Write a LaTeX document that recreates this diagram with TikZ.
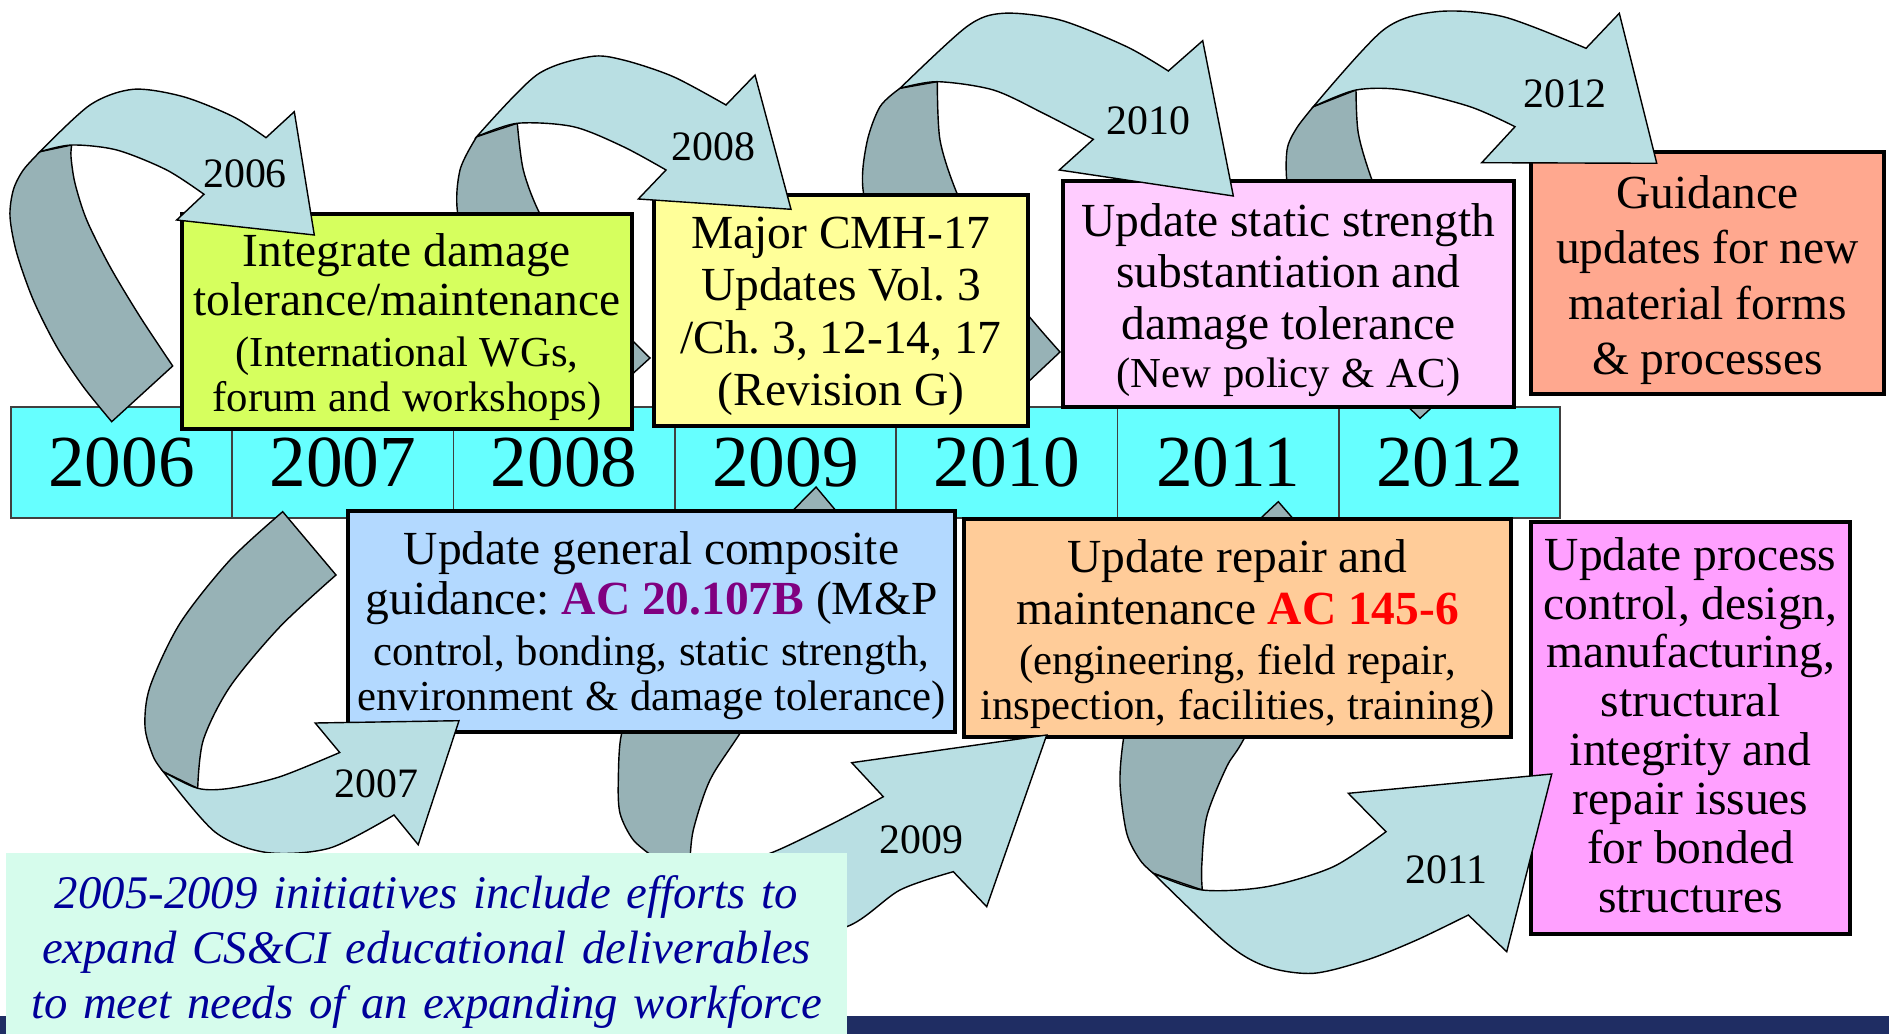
\documentclass[tikz,border=0pt]{standalone}
\usepackage{fontspec}
\setmainfont{Liberation Serif}
\frenchspacing

\definecolor{zeitcyan}{RGB}{102,255,255}
\definecolor{kgruen}{RGB}{214,255,94}
\definecolor{kgelb}{RGB}{255,255,153}
\definecolor{krosa}{RGB}{255,204,255}
\definecolor{klachs}{RGB}{255,168,143}
\definecolor{kblau}{RGB}{179,217,255}
\definecolor{korange}{RGB}{255,204,153}
\definecolor{kmagenta}{RGB}{255,160,255}
\definecolor{pfeilhell}{RGB}{185,223,227}
\definecolor{pfeildunkel}{RGB}{151,178,182}
\definecolor{notizgruen}{RGB}{214,252,236}
\definecolor{notizblau}{RGB}{0,0,153}
\definecolor{balkenblau}{RGB}{31,45,99}
\definecolor{acviolett}{RGB}{128,0,128}

\newcommand{\grosstext}[1]{\fontsize{13.5pt}{#1}\selectfont}
\newcommand{\kleintext}[1]{\fontsize{12.15pt}{#1}\selectfont}

\tikzset{
	kasten/.style={draw=black, line width=1pt, inner sep=0pt},
	kastentext/.style={inner sep=0pt, align=center},
	jahr/.style={draw=black!75, line width=0.5pt, fill=zeitcyan, inner sep=0pt,
		minimum width=2.213cm, minimum height=1.11cm, font=\fontsize{20.85pt}{25pt}\selectfont},
	hell/.style={fill=pfeilhell, draw=black, line width=0.4pt},
	dunkel/.style={fill=pfeildunkel, draw=black, line width=0.4pt},
	pfeiljahr/.style={inner sep=0pt, font=\fontsize{11.9pt}{14pt}\selectfont},
}

\begin{document}
\begin{tikzpicture}[x=0.01cm, y=-0.01cm]
	\useasboundingbox (0,0) rectangle (1889,1034);

	%% Balken unten
	\fill[balkenblau] (0,1016) rectangle (1889,1034);

	%% Zeitleiste
	\foreach \jr [count=\i from 0] in {2006,...,2012}
		\node[jahr] (j\jr) at ({121.6+221.3*\i},462.5) {\jr};

	%%%%%%%%%%%%%%%%

	%% obere Reihe, von rechts nach links
	\node[kasten, fill=klachs, minimum width=3.53cm, minimum height=2.42cm] (guidance) at (1707.5,273) {};
	\node[kastentext, text width=3.53cm] (guidance-t) at ([yshift=-0.069cm]guidance.center)
		{\grosstext{15.75pt}Guidance\\updates for new\\material forms\\\& processes\par};

	\filldraw[dunkel] plot[smooth] coordinates {(1420,418.3) (1385,382) (1340,320) (1305,250) (1288,190) (1287,150) (1296.7,128) (1313.3,106.7)}
		-- (1356,90)
		-- plot[smooth] coordinates {(1356,90) (1358.3,133.3) (1371.7,179.3) (1395,235) (1435,300) (1481,362)}
		-- cycle;
	\filldraw[hell] plot[smooth] coordinates {(1313.3,106.7) (1383.3,30) (1436.7,11.7) (1503.3,16.7) (1586,48.3)}
		-- (1619.3,13.3) -- (1656.7,163.3) -- (1481.7,162.7) -- (1515,126.7)
		-- plot[smooth] coordinates {(1515,126.7) (1470,106.7) (1403.3,90) (1356,90) (1313.3,106.7)}
		-- cycle;
	\node[pfeiljahr] (p2012) at (1565,93.3) {2012};

	\node[kasten, fill=krosa, minimum width=4.51cm, minimum height=2.26cm] (statics) at (1288.5,294) {};
	\node[kastentext, text width=4.51cm] (statics-t) at ([yshift=-0.06cm]statics.center)
		{{\grosstext{14.7pt}Update static strength\\substantiation and\\damage tolerance\par}%
		{\kleintext{13.7pt}(New policy \& AC)\par}};

	\filldraw[dunkel] plot[smooth] coordinates {(994,414) (935,345) (885,265) (863.3,191.7) (866.7,143.3) (880,106.7) (900,88.3)}
		-- (937.3,81.7)
		-- plot[smooth] coordinates {(937.3,81.7) (940,140) (956.7,192.7) (985,250) (1020,305) (1060,352)}
		-- cycle;
	\filldraw[hell] plot[smooth] coordinates {(900,88.3) (966.7,26.7) (1003.3,13.3) (1060,20) (1126.7,46.7) (1168.3,71)}
		-- (1202.7,40.7) -- (1233.3,196) -- (1059.3,170) -- (1093.3,139.3)
		-- plot[smooth] coordinates {(1093.3,139.3) (1043.3,113.3) (993.3,90) (937.3,81.7) (900,88.3)}
		-- cycle;
	\node[pfeiljahr] (p2010) at (1148.3,120.7) {2010};

	\node[kasten, fill=kgelb, minimum width=3.74cm, minimum height=2.31cm] (cmh) at (841,310.5) {};
	\node[kastentext, text width=3.74cm] (cmh-t) at ([yshift=-0.057cm]cmh.center)
		{\grosstext{14.95pt}Major CMH-17\\Updates Vol. 3\\/Ch. 3, 12-14, 17\\(Revision G)\par};

	\filldraw[dunkel] plot[smooth] coordinates {(584,418) (530,350) (480,280) (458,215) (460,170) (476.7,136.7)}
		-- (517.3,123.3)
		-- plot[smooth] coordinates {(517.3,123.3) (523.3,170) (539.3,212.7) (570,265) (605,312) (650,358)}
		-- cycle;
	\filldraw[hell] plot[smooth] coordinates {(476.7,136.7) (536.7,75) (590,56.7) (623.3,60) (673.3,76.7) (726,105)}
		-- (755,75) -- (791,209.3) -- (638.3,199) -- (666,170)
		-- plot[smooth] coordinates {(666,170) (623.3,146.7) (573.3,126.7) (517.3,123.3) (476.7,136.7)}
		-- cycle;
	\node[pfeiljahr] (p2008) at (713.3,146.7) {2008};

	\node[kasten, fill=kgruen, minimum width=4.50cm, minimum height=2.15cm] (integrate) at (407,321.5) {};
	\node[kastentext, text width=4.50cm] (integrate-t) at ([yshift=-0.054cm]integrate.center)
		{{\grosstext{14.05pt}Integrate damage\\tolerance/maintenance\par}\vspace{1.7pt}%
		{\kleintext{12.7pt}(International WGs,\\forum and workshops)\par}};

	\filldraw[dunkel] plot[smooth] coordinates {(111.7,421.7) (83.3,386.7) (56.7,346.7) (33.3,300) (16.7,253) (10,216.7) (13.3,190) (23.3,170) (40,151.7)}
		-- (71.7,145)
		-- plot[smooth] coordinates {(71.7,145) (71,156.7) (75,183.3) (86.7,220) (110,266.7) (140,316.7) (172.7,366)}
		-- cycle;
	\filldraw[hell] plot[smooth] coordinates {(40,151.7) (90,105) (133.3,89.3) (183.3,96.7) (233.3,116.7) (266,137.7)}
		-- (294.3,111.7) -- (314.3,235) -- (176.7,220) -- (204,194.3)
		-- plot[smooth] coordinates {(204,194.3) (166.7,170) (116.7,150) (71.7,145) (40,151.7)}
		-- cycle;
	\node[pfeiljahr] (p2006) at (245,173.3) {2006};

	%%%%%%%%%%%%%%%%

	%% untere Reihe, von rechts nach links
	\node[kasten, fill=kmagenta, minimum width=3.19cm, minimum height=4.12cm] (bonded) at (1690.5,728) {};
	\node[kastentext, text width=3.19cm] (bonded-t) at ([yshift=0.03cm]bonded.center)
		{\grosstext{13.9pt}Update process\\control, design,\\manufacturing,\\structural\\integrity and\\repair issues\\for bonded\\structures\par};

	\filldraw[dunkel] plot[smooth] coordinates {(1278.3,501.7) (1220,560) (1165,640) (1132,700) (1123.3,740) (1120,783.3) (1126.7,833.3) (1140,860) (1153.3,873.3)}
		-- (1202.3,890)
		-- plot[smooth] coordinates {(1202.3,890) (1201.7,866.7) (1206.7,816.7) (1226.7,766.7) (1243.3,740) (1290,650) (1336,568)}
		-- cycle;
	\filldraw[hell] plot[smooth] coordinates {(1153.3,873.3) (1226.7,943.3) (1266.7,966.7) (1313.3,973.3) (1366.7,960) (1416.7,940) (1468.3,915)}
		-- (1506.7,951.7) -- (1551.7,774) -- (1348.3,793.3) -- (1386,831.7)
		-- plot[smooth] coordinates {(1386,831.7) (1333.3,866.7) (1266.7,886.7) (1202.3,890) (1153.3,873.3)}
		-- cycle;
	\node[pfeiljahr] (p2011) at (1446.7,870) {2011};

	\node[kasten, fill=korange, minimum width=5.47cm, minimum height=2.18cm] (repair) at (1237.5,628) {};
	\node[kastentext, text width=5.47cm] (repair-t) at ([yshift=-0.06cm]repair.center)
		{{\grosstext{14.7pt}Update repair and\\maintenance \textbf{\color{red}AC 145-6}\par}\vspace{1.7pt}%
		{\kleintext{12.7pt}(engineering, field repair,\\inspection, facilities, training)\par}};

	\filldraw[dunkel] plot[smooth] coordinates {(816,487) (760,545) (690,625) (640,700) (621.7,733.3) (618.3,780) (620,813.3) (633.3,840) (655,858)}
		-- (690,862)
		-- plot[smooth] coordinates {(690,862) (693.3,830) (710,780) (740,733.3) (800,640) (874,556)}
		-- cycle;
	\filldraw[hell] plot[smooth] coordinates {(655,858) (700,915) (760,942) (846.7,926.7) (900,890) (953.3,871.7)}
		-- (986.7,906.7) -- (1046.7,735) -- (851.7,762.7) -- (883.3,796.7)
		-- plot[smooth] coordinates {(883.3,796.7) (833.3,823.3) (770,853.3) (725,863) (690,862) (655,858)}
		-- cycle;
	\node[pfeiljahr] (p2009) at (921.7,840) {2009};

	\node[kasten, fill=kblau, minimum width=6.07cm, minimum height=2.21cm] (composite) at (651.5,621.5) {};
	\node[kastentext, text width=6.07cm] (composite-t) at ([yshift=-0.045cm]composite.center)
		{{\grosstext{14.05pt}Update general composite\\guidance: \textbf{\color{acviolett}AC 20.107B} (M\&P\par}\vspace{1.4pt}%
		{\kleintext{13pt}control, bonding, static strength,\\environment \& damage tolerance)\par}};

	\filldraw[dunkel] plot[smooth] coordinates {(282.7,511.7) (230,560) (180,623.3) (150,686.7) (145,726.7) (153.3,756.7) (163.3,771.7)}
		-- (197.7,788.3)
		-- plot[smooth] coordinates {(197.7,788.3) (203.3,740) (230,686.7) (280,626.7) (336,575)}
		-- cycle;
	\filldraw[hell] plot[smooth] coordinates {(163.3,771.7) (215,832) (266.7,852.5) (330,848) (394,815)}
		-- (418.2,844.7) -- (459,720.7) -- (315.2,723) -- (339.7,752.5)
		-- plot[smooth] coordinates {(339.7,752.5) (280,776.7) (230,788.3) (197.7,788.3) (163.3,771.7)}
		-- cycle;
	\node[pfeiljahr] (p2007) at (376.7,783.3) {2007};

	%%%%%%%%%%%%%%%%

	%% Notiz
	\fill[notizgruen] (6,853) rectangle (847,1034);
	\node[inner sep=0pt, text width=8.41cm, align=center, text=notizblau,
		font=\fontsize{13.3pt}{15.5pt}\selectfont\itshape] (note) at (426.5,952)
		{2005-2009 initiatives include efforts to\\expand CS\&CI educational deliverables\\to meet needs of an expanding workforce};

\end{tikzpicture}
\end{document}
